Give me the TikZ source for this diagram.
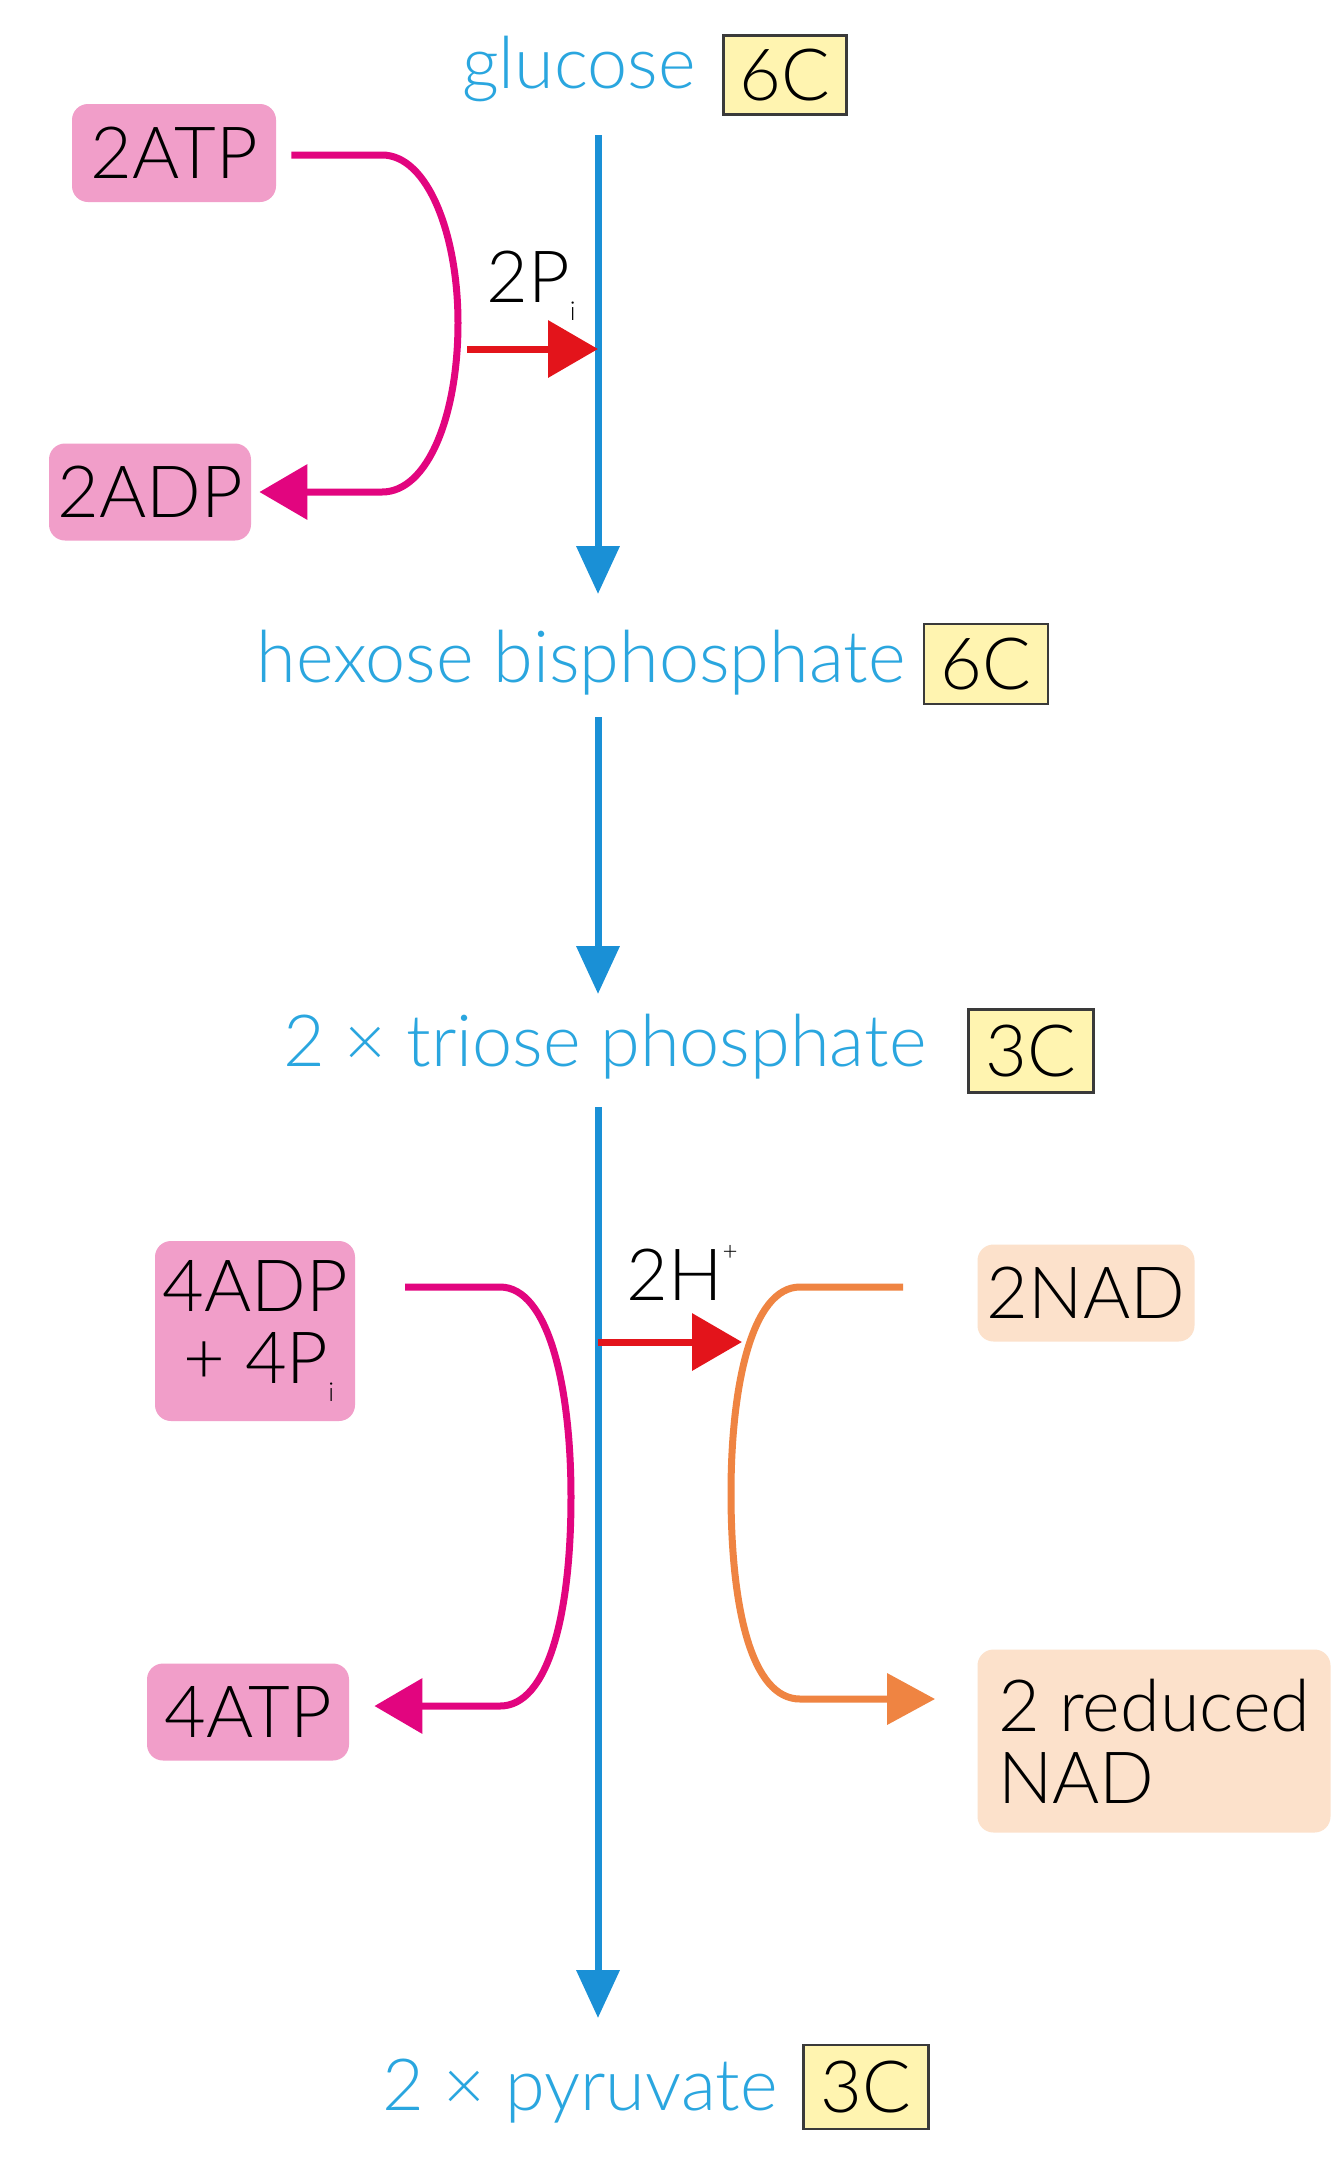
\documentclass[tikz,border=0pt]{standalone}
\usepackage{fontspec}
\setmainfont{Lato}[UprightFont=* Light]
\usetikzlibrary{arrows.meta}
\definecolor{cblue}{HTML}{1A90D6}
\definecolor{ctext}{HTML}{2AA6DF}
\definecolor{cpinkfill}{HTML}{F19EC9}
\definecolor{cpink}{HTML}{E2057F}
\definecolor{cred}{HTML}{E3141B}
\definecolor{corange}{HTML}{EF8442}
\definecolor{cpeach}{HTML}{FCE1CB}
\definecolor{cyellow}{HTML}{FFF4B0}
\definecolor{cborder}{HTML}{3A3A3A}
\newcommand{\mysubi}{\raisebox{-9pt}{\fontsize{13}{13}\selectfont i}}
\newcommand{\mysupplus}{\raisebox{20pt}{\fontsize{13}{13}\selectfont +}}
\tikzset{
  bigtext/.style={font=\fontsize{36}{40}\selectfont},
  bluetext/.style={bigtext, text=ctext, inner sep=0pt},
  cbox/.style={bigtext, fill=cyellow, draw=cborder, line width=1.3pt, inner sep=0pt},
  pinkbox/.style={bigtext, fill=cpinkfill, rounded corners=8pt, inner sep=0pt},
  peachbox/.style={bigtext, fill=cpeach, rounded corners=8pt, inner sep=0pt},
  mainarrow/.style={draw=cblue, line width=3.5pt, -{Triangle[length=24pt,width=21pt]}},
  pinkarrow/.style={draw=cpink, line width=3.5pt, -{Triangle[length=24pt,width=27pt]}},
  redarrow/.style={draw=cred, line width=3.5pt, -{Triangle[length=25pt,width=28pt]}},
  orangearrow/.style={draw=corange, line width=3.5pt, -{Triangle[length=24pt,width=25pt]}},
  lbl/.style={bigtext, inner sep=0pt}
}
\begin{document}
\begin{tikzpicture}[x=0.5pt,y=-0.5pt]
\fill[white] (0,0) rectangle (1334,2175);
\useasboundingbox (0,0) rectangle (1334,2175);

% main compounds
\node[bluetext] (glucose) at (579,69) {glucose};
\node[cbox, minimum width=61.5pt, minimum height=39.5pt] (c6a) at (785,75) {6C};
\node[bluetext] (hex) at (581,663) {hexose bisphosphate};
\node[cbox, minimum width=62pt, minimum height=40pt] (c6b) at (986,664) {6C};
\node[bluetext] (triose) at (605,1047) {2 × triose phosphate};
\node[cbox, minimum width=62.5pt, minimum height=41.5pt] (c3a) at (1031,1051) {3C};
\node[bluetext] (pyr) at (580,2091) {2 × pyruvate};
\node[cbox, minimum width=62.5pt, minimum height=42pt] (c3b) at (866,2087) {3C};

% side boxes
\node[pinkbox, minimum width=102pt, minimum height=49pt] (atp2) at (174,153) {2ATP};
\node[pinkbox, minimum width=101pt, minimum height=48.5pt] (adp2) at (150,492) {2ADP};
\node[pinkbox, minimum width=100pt, minimum height=90pt, align=center] (adp4) at (255,1331)
  {4ADP\\[-4pt]\hspace*{4pt}+ 4P\mysubi};
\node[pinkbox, minimum width=101pt, minimum height=48.5pt] (atp4) at (248,1712) {4ATP};
\node[peachbox, minimum width=108.5pt, minimum height=48.5pt] (nad2) at (1086,1293) {2NAD};
\node[peachbox, minimum width=176.5pt, minimum height=91.5pt, align=left] (rnad) at (1154,1741)
  {2 reduced\\[-4pt]NAD};

% small labels
\node[lbl] (pi2) at (531,286) {2P\mysubi};
\node[lbl] (h2) at (682,1273) {2H\mysupplus};

% coordinates on the main line
\coordinate (m1s) at (598,135);
\coordinate (m1e) at (598,594);
\coordinate (m2s) at (598,717);
\coordinate (m2e) at (598,994);
\coordinate (m3s) at (598,1107);
\coordinate (m3e) at (598,2018);
\coordinate (r1s) at (467,349);
\coordinate (r1e) at (598,349);
\coordinate (r2s) at (598,1342);
\coordinate (r2e) at (742,1342);

% main arrows
\draw[mainarrow] (m1s) -- (m1e);
\draw[mainarrow] (m2s) -- (m2e);
\draw[mainarrow] (m3s) -- (m3e);

% ATP loop 1
\draw[pinkarrow] ([xshift=7.5pt,yshift=-1pt]atp2.east) -- (382,155)
  .. controls (428,155) and (458,235) .. (458,323)
  .. controls (458,415) and (428,492) .. (382,492)
  -- ([xshift=4pt]adp2.east);
\draw[redarrow] (r1s) -- (r1e);

% ATP loop 2
\draw[pinkarrow] (405,1287) -- (500,1287)
  .. controls (548,1287) and (571,1385) .. (571,1497)
  .. controls (571,1615) and (548,1706) .. (500,1706)
  -- ([xshift=12.5pt]atp4.east |- 0,1706);
\draw[redarrow] (r2s) -- (r2e);

% NAD loop
\draw[orangearrow] ([xshift=-37pt,yshift=3pt]nad2.west) -- (800,1287)
  .. controls (752,1287) and (731,1385) .. (731,1493)
  .. controls (731,1610) and (752,1699) .. (800,1699)
  -- ([xshift=-21pt]rnad.west |- 0,1699);
\end{tikzpicture}
\end{document}
